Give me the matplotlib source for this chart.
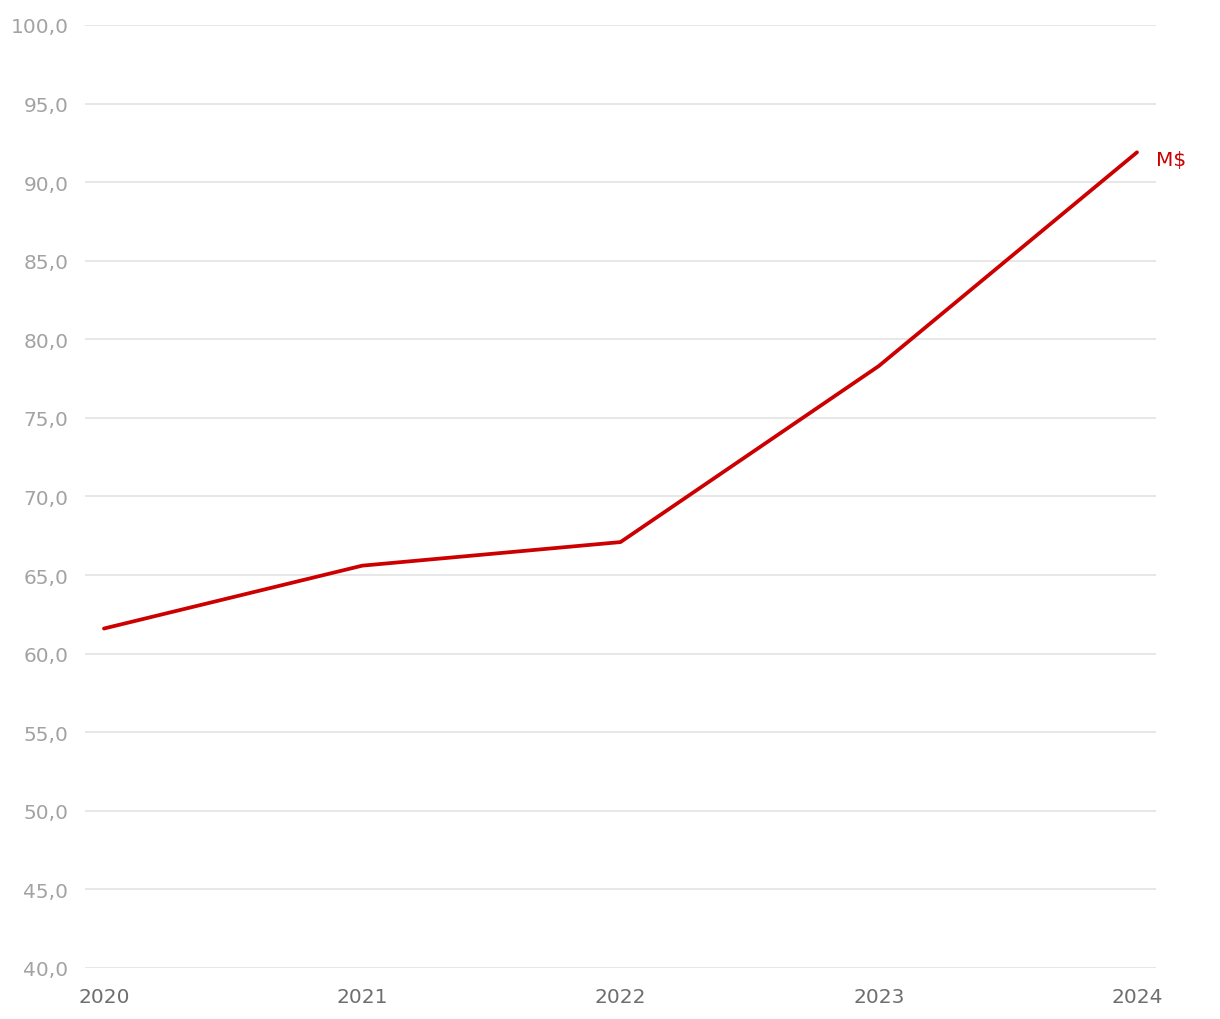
import matplotlib
matplotlib.use('Agg')
from matplotlib import pyplot as plt
from matplotlib.ticker import FuncFormatter

years = [2020, 2021, 2022, 2023, 2024]
values = [61.6, 65.6, 67.1, 78.3, 91.9]
yTicks = [40, 45, 50, 55, 60, 65, 70, 75, 80, 85, 90, 95, 100]
seriesLabel = 'M$'

plt.rcParams['font.family'] = ['DejaVu Sans']

fig = plt.figure(figsize=(12.2, 10.2), dpi=100)
ax = fig.add_axes([85/1220, 1 - 969/1020, (1156-85)/1220, (969-26)/1020])

ax.plot(years, values, color='#cc0000', linewidth=2.7, solid_capstyle='round', zorder=3)
ax.text(years[-1] + 0.075, values[-1] - 0.45, seriesLabel, color='#cc0000', fontsize=14.5,
        va='center', ha='left')

ax.set_xlim(2020 - 19/258.25, 2024 + 19/258.25)
ax.set_ylim(40, 100)
ax.set_yticks(yTicks)
ax.set_xticks(years)
ax.yaxis.set_major_formatter(FuncFormatter(lambda v, p: ('%.1f' % v).replace('.', ',')))
ax.grid(axis='y', color='#e3e3e3', linewidth=1.2)
ax.set_axisbelow(True)
for s in ax.spines.values():
    s.set_visible(False)
ax.tick_params(axis='y', length=0, pad=12, labelsize=14.5, labelcolor='#a3a3a3')
ax.tick_params(axis='x', length=0, pad=14, labelsize=14.5, labelcolor='#6e6e6e')

fig.savefig('out.png', dpi=100)
